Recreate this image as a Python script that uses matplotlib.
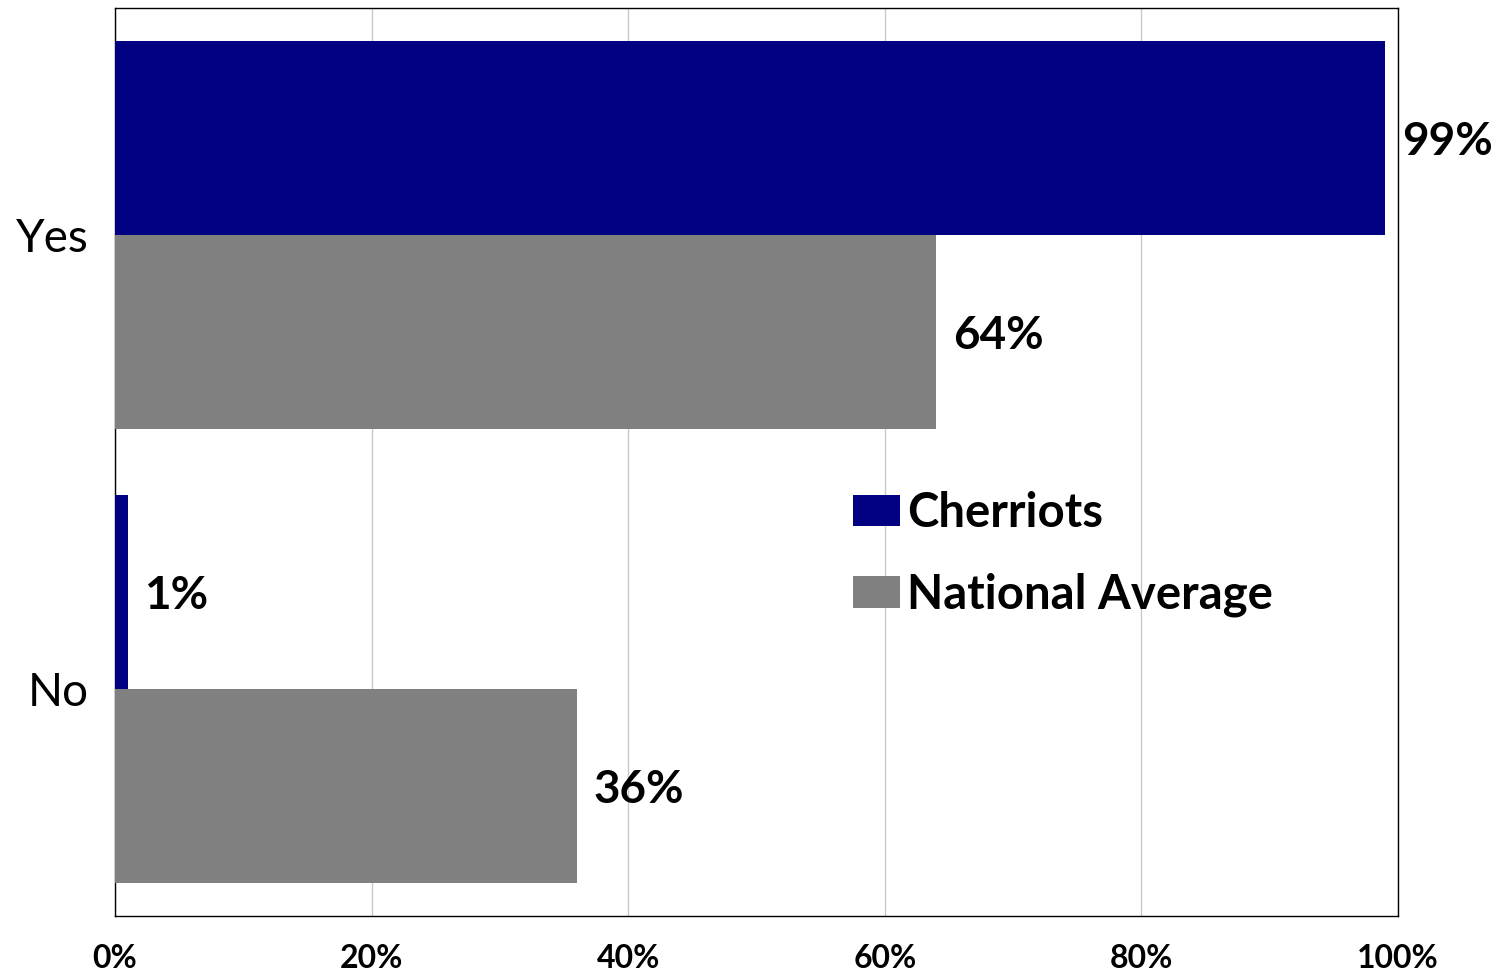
import matplotlib
matplotlib.use("Agg")
import matplotlib.pyplot as plt
import numpy as np

categories = ["No", "Yes"]
cherriots = [0.01, 0.99]
national = [0.36, 0.64]
series_names = ["Cherriots", "National Average"]
xticks = [0, 0.2, 0.4, 0.6, 0.8, 1.0]
xtick_labels = ["0%", "20%", "40%", "60%", "80%", "100%"]

plt.rcParams['font.family'] = ['Lato', 'DejaVu Sans']

fig = plt.figure(figsize=(14.99, 9.77), dpi=100)
ax = fig.add_axes([115/1499, 1-916/977, (1398-115)/1499, (916-8)/977])

y = np.arange(len(categories))
h = 0.427
b1 = ax.barh(y + h/2, cherriots, height=h, color="#000080", label=series_names[0], zorder=3)
b2 = ax.barh(y - h/2, national, height=h, color="#808080", label=series_names[1], zorder=3)

for bars, vals in ((b1, cherriots), (b2, national)):
    for bar, v in zip(bars, vals):
        ax.annotate(f"{round(v*100)}%", xy=(v, bar.get_y() + bar.get_height()/2),
                    xytext=(12, -3), textcoords="offset points", va="center", ha="left",
                    fontsize=33, fontweight="bold", annotation_clip=False)

ax.set_xlim(0, 1)
ax.set_ylim(-0.5, 1.5)
ax.set_xticks(xticks)
ax.set_xticklabels(xtick_labels, fontsize=23, fontweight="bold")
ax.set_yticks(y)
ax.set_yticklabels(categories, fontsize=33)
ax.tick_params(axis="both", length=0)
ax.tick_params(axis="x", pad=20)
ax.tick_params(axis="y", pad=19)
ax.xaxis.grid(True, color="#c8c8c8", linewidth=1, zorder=0)
for s in ax.spines.values():
    s.set_color("black")
    s.set_linewidth(1)

leg = ax.legend(loc="upper left", bbox_to_anchor=(853/1499, 1-491/977), bbox_transform=fig.transFigure,
                frameon=False, prop={"size": 34, "weight": "bold"}, handlelength=1.0, handleheight=0.65,
                handletextpad=0.15, labelspacing=0.8, borderaxespad=0, borderpad=0)

fig.savefig("out.png", dpi=100)
